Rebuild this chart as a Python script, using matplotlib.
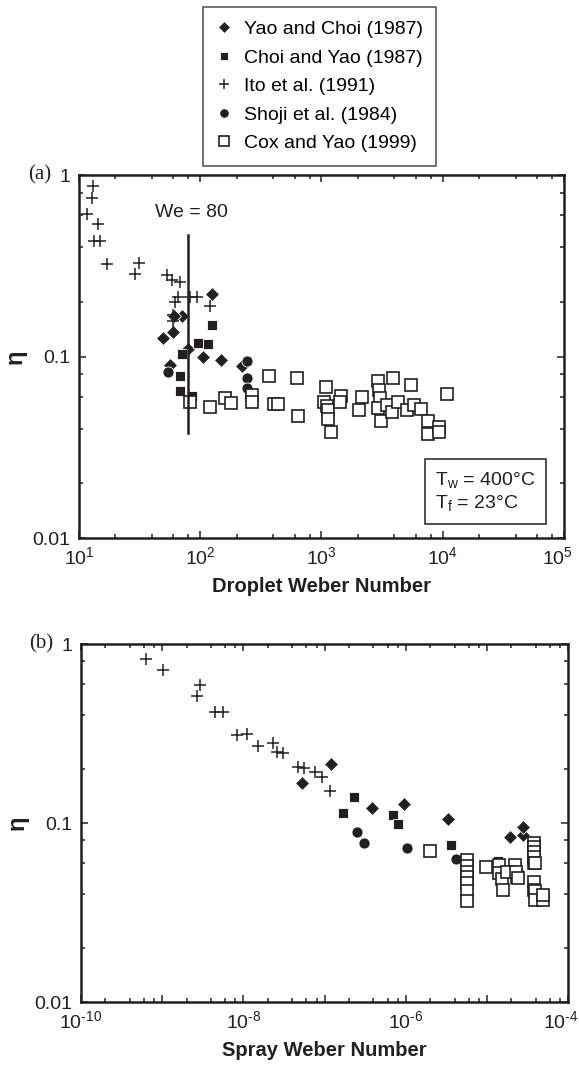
import numpy as np
import matplotlib.pyplot as plt
from matplotlib.lines import Line2D
from matplotlib.ticker import FuncFormatter, LogLocator, NullFormatter
from matplotlib.transforms import ScaledTranslation

plt.rcParams["font.family"] = ["Liberation Sans", "DejaVu Sans"]
plt.rcParams["mathtext.fontset"] = "custom"
plt.rcParams["mathtext.rm"] = "Liberation Sans"
plt.rcParams["mathtext.default"] = "regular"
plt.rcParams["axes.unicode_minus"] = False

INK = "#231f20"

# ------------------------------------------------------------------
# (a) droplet Weber number data
# ------------------------------------------------------------------
a_yao_we = [124, 70.3, 60.7, 49.6, 59.3, 79.6, 106, 147.5, 220, 56]
a_yao_eta = [0.221, 0.168, 0.168, 0.127, 0.137, 0.110, 0.099, 0.096, 0.0887, 0.0898]

a_choi_we = [124, 96.4, 116.5, 70.3, 68, 68, 84.9]
a_choi_eta = [0.150, 0.119, 0.117, 0.103, 0.078, 0.0648, 0.0606]

a_ito_we = [13.1, 12.7, 11.7, 14.4, 13.4, 14.9, 17.1, 31.4, 29, 52.9,
            58.2, 68.1, 65.9, 61.9, 59.9, 59.3, 82.3, 93.5, 120]
a_ito_eta = [0.87, 0.75, 0.61, 0.537, 0.435, 0.435, 0.323, 0.329, 0.284, 0.281,
             0.264, 0.258, 0.214, 0.200, 0.169, 0.157, 0.214, 0.214, 0.190]

a_shoji_we = [54.5, 241.6, 241.6, 241.6]
a_shoji_eta = [0.0825, 0.0948, 0.0759, 0.0668]

a_cox_we = [82.3, 120, 160, 178, 268.5, 268.5, 370, 405, 440, 624, 644,
            1083, 1055, 1104, 1125, 1138, 1191, 1439, 1424, 2051, 2144,
            2940, 3000, 3036, 2940, 3097, 3493, 3788, 3862, 4296, 5433,
            5035, 5821, 6624, 7603, 7603, 9376, 9376, 10900]
a_cox_eta = [0.0564, 0.0529, 0.0589, 0.0552, 0.0614, 0.0560, 0.0781, 0.0547, 0.0547, 0.0759, 0.0472,
             0.0677, 0.0560, 0.0534, 0.0507, 0.0451, 0.0385, 0.0608, 0.0564, 0.0507, 0.0596,
             0.0733, 0.0654, 0.0589, 0.0518, 0.0443, 0.0540, 0.0497, 0.0764, 0.0564, 0.0697,
             0.0507, 0.0540, 0.0512, 0.0443, 0.0376, 0.0410, 0.0385, 0.0619]

we_line_x = [80, 80]
we_line_y = [0.038, 0.467]

# ------------------------------------------------------------------
# (b) spray Weber number data
# ------------------------------------------------------------------
b_yao_we = [1.2e-7, 5.24e-8, 3.81e-7, 9.62e-7, 3.35e-6, 1.93e-5, 2.81e-5, 2.81e-5]
b_yao_eta = [0.213, 0.167, 0.122, 0.127, 0.105, 0.0832, 0.0857, 0.0954]

b_choi_we = [2.31e-7, 1.71e-7, 6.92e-7, 8.11e-7, 3.61e-6, 1.38e-5]
b_choi_eta = [0.140, 0.114, 0.111, 0.0984, 0.0753, 0.0613]

b_ito_we = [6.27e-10, 1.01e-9, 2.66e-9, 2.92e-9, 4.48e-9, 5.57e-9, 8.43e-9,
            1.12e-8, 1.53e-8, 2.34e-8, 2.62e-8, 3.1e-8, 4.68e-8, 5.6e-8,
            7.63e-8, 9.23e-8, 1.17e-7]
b_ito_eta = [0.821, 0.716, 0.512, 0.590, 0.419, 0.419, 0.310,
             0.314, 0.269, 0.279, 0.250, 0.247, 0.205, 0.202,
             0.194, 0.180, 0.151]

b_shoji_we = [2.54e-7, 3.09e-7, 1.03e-6, 4.13e-6]
b_shoji_eta = [0.0894, 0.0776, 0.0722, 0.0627]

b_cox_we = [2.0e-6,
            5.65e-6, 5.65e-6, 5.65e-6, 5.65e-6, 5.65e-6, 5.65e-6, 5.65e-6,
            9.7e-6, 1.4e-5, 1.4e-5, 1.52e-5, 1.58e-5, 2.24e-5, 2.35e-5,
            1.76e-5, 2.29e-5, 2.44e-5,
            3.81e-5, 3.81e-5, 3.81e-5, 3.81e-5, 3.81e-5, 3.81e-5, 3.81e-5,
            3.88e-5, 3.88e-5, 3.88e-5, 4.99e-5, 4.97e-5]
b_cox_eta = [0.070,
             0.0621, 0.0578, 0.0534, 0.0497, 0.0460, 0.0419, 0.0369,
             0.0566, 0.0583, 0.0524, 0.0485, 0.0423, 0.0583, 0.0497,
             0.0534, 0.0534, 0.0494,
             0.0776, 0.0737, 0.0692, 0.0648, 0.0596, 0.0471, 0.0423,
             0.0600, 0.0419, 0.0372, 0.0372, 0.0396]

labels = ["Yao and Choi (1987)", "Choi and Yao (1987)", "Ito et al. (1991)",
          "Shoji et al. (1984)", "Cox and Yao (1999)"]

styles = [
    dict(marker="D", ms=7.5, mfc=INK, mec="white", mew=0.6, ls="none"),
    dict(marker="s", ms=7.5, mfc=INK, mec="white", mew=0.6, ls="none"),
    dict(marker="+", ms=9, mec=INK, mew=1.1, ls="none"),
    dict(marker="o", ms=8, mfc=INK, mec="white", mew=0.6, ls="none"),
    dict(marker="s", ms=8, mfc="white", mec=INK, mew=1.2, ls="none"),
]


def decade_label(step):
    # label every `step`-th decade, short hyphen in the exponent
    def fmt(val, pos):
        exp = int(round(np.log10(val)))
        if exp % step:
            return ""
        return "10$^{\\text{%d}}$" % exp
    return FuncFormatter(fmt)


def style_axes(ax, xmin, xmax, xlabel, step):
    ax.set_xscale("log")
    ax.set_yscale("log")
    ax.set_xlim(xmin, xmax)
    ax.set_ylim(0.01, 1)
    ax.xaxis.set_major_locator(LogLocator(base=10, numticks=20))
    ax.xaxis.set_major_formatter(decade_label(step))
    ax.xaxis.set_minor_locator(LogLocator(base=10, subs=(2, 4, 6, 8), numticks=20))
    ax.xaxis.set_minor_formatter(NullFormatter())
    ax.yaxis.set_minor_locator(LogLocator(base=10, subs=(2, 4, 6, 8), numticks=20))
    ax.yaxis.set_minor_formatter(NullFormatter())
    ax.set_yticks([0.01, 0.1, 1], labels=["0.01", "0.1", "1"])
    ax.tick_params(which="both", direction="in", top=True, right=True,
                   colors=INK, labelsize=14, width=1.1)
    ax.tick_params(which="major", length=5, pad=6)
    ax.tick_params(which="minor", length=3)
    for spine in ax.spines.values():
        spine.set_linewidth(1.8)
        spine.set_color(INK)
    ax.set_xlabel(xlabel, fontsize=14.5, fontweight="bold", color=INK, labelpad=6)
    ax.set_ylabel("η", fontsize=17, fontweight="bold", color=INK)
    ax.yaxis.set_label_coords(-0.108, 0.5)


fig = plt.figure(figsize=(5.79, 10.66), dpi=100)
ax_a = fig.add_axes([0.1364, 0.4953, 0.8377, 0.3405])
ax_b = fig.add_axes([0.1399, 0.0600, 0.8411, 0.3358])

a_sets = [(a_yao_we, a_yao_eta), (a_choi_we, a_choi_eta), (a_ito_we, a_ito_eta),
          (a_shoji_we, a_shoji_eta), (a_cox_we, a_cox_eta)]
b_sets = [(b_yao_we, b_yao_eta), (b_choi_we, b_choi_eta), (b_ito_we, b_ito_eta),
          (b_shoji_we, b_shoji_eta), (b_cox_we, b_cox_eta)]

for (xs, ys), st in zip(a_sets, styles):
    ax_a.plot(xs, ys, **st)
for (xs, ys), st in zip(b_sets, styles):
    ax_b.plot(xs, ys, **st)

ax_a.plot(we_line_x, we_line_y, color=INK, lw=1.8)
ax_a.text(85, 0.62, "We = 80", fontsize=14, ha="center", va="center", color=INK)
ax_a.text(0.735, 0.128, "T$_{\\mathregular{w}}$ = 400°C\nT$_{\\mathregular{f}}$ = 23°C",
          transform=ax_a.transAxes, fontsize=14, ha="left", va="center", color=INK,
          linespacing=1.25,
          bbox=dict(boxstyle="square,pad=0.55", fc="white", ec=INK, lw=1.1))

style_axes(ax_a, 10, 1e5, "Droplet Weber Number", 1)
style_axes(ax_b, 1e-10, 1e-4, "Spray Weber Number", 2)

for ax, tag in [(ax_a, "(a)"), (ax_b, "(b)")]:
    ax.text(-0.058, 1.0, tag, transform=ax.transAxes, family="Liberation Serif",
            fontsize=15, ha="right", va="center", color=INK)

handles = [Line2D([], [], **st) for st in styles]
leg = fig.legend(handles, labels, loc="upper center", bbox_to_anchor=(0.552, 0.9934),
                 fontsize=14, frameon=True, fancybox=False, edgecolor=INK,
                 markerscale=0.85, handlelength=0.8, handletextpad=0.6,
                 labelspacing=0.56, borderpad=0.7, borderaxespad=0)
leg.get_frame().set_linewidth(1.1)

# nudge the right-most x tick labels so they stay inside the figure
fig.canvas.draw()
for ax in (ax_a, ax_b):
    xmax = ax.get_xlim()[1]
    for tick in ax.xaxis.get_major_ticks():
        if np.isclose(np.log10(tick.get_loc()), np.log10(xmax)):
            lab = tick.label1
            lab.set_transform(lab.get_transform()
                              + ScaledTranslation(-5 / 72, 0, fig.dpi_scale_trans))

fig.savefig("out.png", dpi=100)
